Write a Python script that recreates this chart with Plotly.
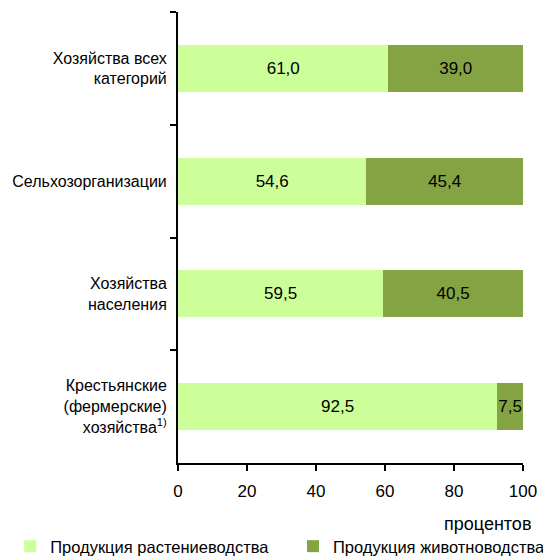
import plotly.graph_objects as go

categories = ["Хозяйства всех<br>категорий", "Сельхозорганизации",
              "Хозяйства<br>населения",
              "Крестьянские<br>(фермерские)<br>хозяйства<sup>1)</sup>"]
crop = [61.0, 54.6, 59.5, 92.5]
livestock = [39.0, 45.4, 40.5, 7.5]
series_names = ["Продукция растениеводства", "Продукция животноводства"]
x_ticks = [0, 20, 40, 60, 80, 100]

def fmt(v):
    return f"{v:.1f}".replace(".", ",")

fig = go.Figure()
for vals, name, color, lg in [(crop, series_names[0], "#CCFF99", "legend"),
                              (livestock, series_names[1], "#84A444", "legend2")]:
    fig.add_trace(go.Bar(y=categories, x=vals, orientation="h", name=name,
                         marker=dict(color=color, line=dict(width=0)),
                         text=[fmt(v) for v in vals], textposition="inside",
                         insidetextanchor="middle", constraintext="none",
                         textangle=0, cliponaxis=False, legend=lg,
                         textfont=dict(size=17, color="black")))

legend_common = dict(orientation="h", xref="container", yref="paper",
                     xanchor="left", y=-0.185, yanchor="middle",
                     font=dict(size=16.5), itemwidth=30, bgcolor="rgba(0,0,0,0)")

fig.update_layout(
    width=543, height=548, barmode="stack", bargap=0.584,
    plot_bgcolor="white", paper_bgcolor="white",
    font=dict(family="Liberation Sans, Arial, sans-serif", size=16, color="black"),
    margin=dict(l=170, r=28, t=4, b=93, autoexpand=False),
    legend=dict(x=0.004, **legend_common),
    legend2=dict(x=285 / 543, **legend_common),
    showlegend=True,
)
fig.update_xaxes(range=[0, 100], tickvals=x_ticks, ticktext=[str(v) for v in x_ticks],
                 showline=True, linecolor="black", linewidth=2, ticks="outside",
                 ticklen=6, tickwidth=2, tickcolor="black", showgrid=False,
                 zeroline=False, tickfont=dict(size=17), ticklabelstandoff=6)
fig.update_yaxes(autorange="reversed", showline=True, linecolor="black", linewidth=2,
                 ticks="outside", ticklen=6, tickwidth=2, tickcolor="black",
                 tickson="boundaries", showgrid=False, ticklabelstandoff=6,
                 tickfont=dict(size=16))
fig.add_annotation(text="процентов", xref="paper", yref="paper", x=1.03, y=-0.135,
                   xanchor="right", yanchor="middle", showarrow=False,
                   font=dict(size=18))
fig.write_html("out.html")
